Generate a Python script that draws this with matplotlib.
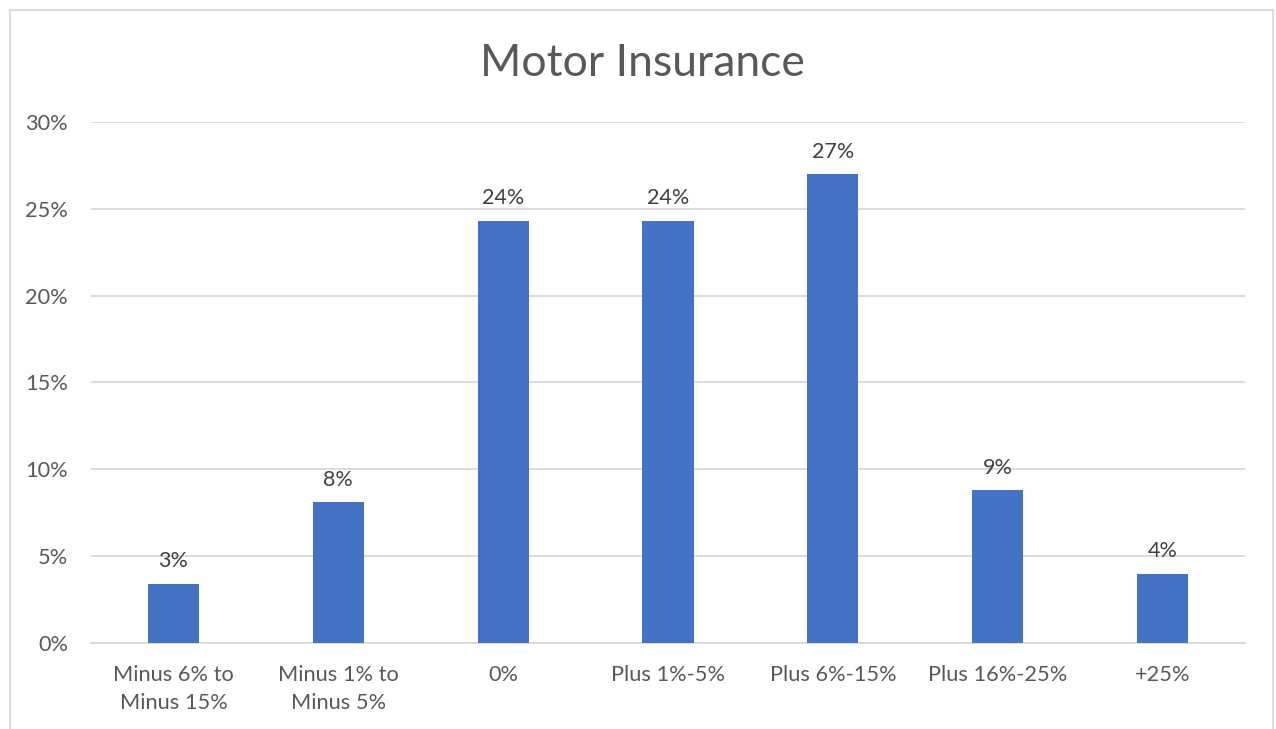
import matplotlib.pyplot as plt
from matplotlib.lines import Line2D
from matplotlib.ticker import FuncFormatter, MultipleLocator

plt.rcParams['font.family'] = ['Lato', 'DejaVu Sans']

# Motor insurance premium change buckets and share of responses
categories = ['Minus 6% to\nMinus 15%', 'Minus 1% to\nMinus 5%', '0%',
              'Plus 1%-5%', 'Plus 6%-15%', 'Plus 16%-25%', '+25%']
shares = [0.034, 0.081, 0.243, 0.243, 0.270, 0.088, 0.040]

W, H = 1276, 729
fig = plt.figure(figsize=(W / 100, H / 100), dpi=100)
ax = fig.add_axes([91 / W, 1 - 643 / H, (1245 - 91) / W, (643 - 122) / H])

x = range(len(categories))
bars = ax.bar(x, shares, width=0.31, color='#4472C4', zorder=3)

for rect, v in zip(bars, shares):
    ax.annotate(f'{v * 100:.0f}%', (rect.get_x() + rect.get_width() / 2, v),
                xytext=(0, 9), textcoords='offset points',
                ha='center', va='bottom', fontsize=15.5, color='#404040')

ax.set_xlim(-0.5, len(categories) - 0.5)
ax.set_ylim(0, 0.30)
ax.yaxis.set_major_locator(MultipleLocator(0.05))
ax.yaxis.set_major_formatter(FuncFormatter(lambda v, p: f'{v * 100:.0f}%'))
ax.set_xticks(list(x))
ax.set_xticklabels(categories, linespacing=1.55)

ax.grid(axis='y', color='#D9D9D9', linewidth=1.3, zorder=0)
for s in ['top', 'right', 'left']:
    ax.spines[s].set_visible(False)
ax.spines['bottom'].set_color('#D9D9D9')
ax.spines['bottom'].set_linewidth(1.3)
ax.tick_params(axis='both', length=0, labelsize=15.7, colors='#595959')
ax.tick_params(axis='y', pad=16.5)
ax.tick_params(axis='x', pad=15.5)

fig.text(642 / W, 1 - 64 / H, 'Motor Insurance', ha='center', va='center',
         fontsize=32, color='#595959')

# light chart border (left, top, right)
bc = '#D9D9D9'
fig.add_artist(Line2D([10 / W, 10 / W], [0, 1 - 10 / H], color=bc, lw=1.3))
fig.add_artist(Line2D([10 / W, 1273 / W], [1 - 10 / H, 1 - 10 / H], color=bc, lw=1.3))
fig.add_artist(Line2D([1273 / W, 1273 / W], [0, 1 - 10 / H], color=bc, lw=1.3))

fig.savefig('out.png', dpi=100)
